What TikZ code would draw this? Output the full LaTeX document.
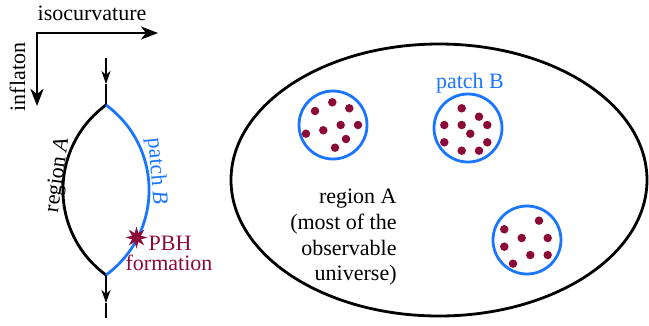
\documentclass[tikz,border=0pt]{standalone}
\usepackage{fontspec}
\setmainfont{Liberation Serif}
\usetikzlibrary{arrows.meta,shapes.geometric}
\definecolor{pbhred}{HTML}{8B0A38}
\definecolor{pblue}{HTML}{1A75FF}
\begin{document}
\begin{tikzpicture}[x=1pt,y=-1pt,line width=2.8pt,
  lbl/.style={font=\fontsize{22}{26}\selectfont, inner sep=0pt},
  bothtip/.style={arrows={Stealth[length=17pt,width=13pt,inset=5pt]-Stealth[length=17pt,width=13pt,inset=5pt]}},
  smalltip/.style={arrows={-Stealth[length=13pt,width=9pt,inset=4pt]}},
  dot/.style={circle, fill=pbhred, inner sep=0pt, minimum size=8.5pt},
  patch/.style={draw=pblue, line width=2.8pt},
  pbhstar/.style={star, star points=8, star point ratio=2.3, fill=pbhred, draw=none, minimum size=22pt, inner sep=0pt}]
\useasboundingbox (0,0) rectangle (649,325);

% axes
\coordinate (ax0) at (37,33);
\coordinate (axh) at (158,33);
\coordinate (axv) at (37,106);
\draw[bothtip, line join=miter] (axv) -- (ax0) -- (axh);
\node[lbl, anchor=base] (iso) at (92,20) {isocurvature};
\node[lbl, anchor=base, rotate=90] (infl) at (25,77) {inflaton};

% lens
\coordinate (top) at (106,58);
\coordinate (ta) at (106,84);
\coordinate (tv) at (106,105);
\coordinate (bv) at (106,275);
\coordinate (ba) at (106,303);
\coordinate (bot) at (106,318);
\draw[smalltip] (top) -- (ta);
\draw (ta) -- (tv);
\draw[smalltip] (bv) -- (ba);
\draw (ba) -- (bot);
\draw (tv) .. controls (48.6,147.2) and (48.6,232.8) .. (bv);
\draw[pblue] (tv) .. controls (163.4,147.2) and (163.4,232.8) .. (bv);
\node[pbhstar] (star) at (136.5,237.5) {};

\node[lbl, rotate=82, anchor=base] (regA) at (63,176) {region \textit{A}};
\node[lbl, text=pblue, rotate=-85, anchor=base] (patB) at (151,172) {patch \textit{B}};
\node[lbl, text=pbhred, anchor=base] (pbh1) at (170,250) {PBH};
\node[lbl, text=pbhred, anchor=base] (pbh2) at (169,270) {formation};

% universe
\node[draw, ellipse, minimum width=416pt, minimum height=272pt, inner sep=0pt] (univ) at (439,180) {};
\node[lbl, anchor=base east] (t1) at (398,203.5) {region A};
\node[lbl, anchor=base east] (t2) at (398,229.3) {(most of the};
\node[lbl, anchor=base east] (t3) at (398,255) {observable};
\node[lbl, anchor=base east] (t4) at (398,280.8) {universe)};

\node[lbl, text=pblue, anchor=base] (pB) at (470,88) {patch B};

\node[patch, circle, minimum size=68pt, inner sep=0pt] (c1) at (333,125) {};
\node[patch, circle, minimum size=68pt, inner sep=0pt] (c2) at (468,128) {};
\node[patch, circle, minimum size=68pt, inner sep=0pt] (c3) at (527,240) {};

\foreach \p in {(332.3,102.3),(315,111),(349.3,108.3),(340.7,125),(358,125),(323.3,130.3),(306,133.7),(346,139),(335,147.7),
  (461.7,108.3),(479,116.7),(444.3,125),(461.7,125),(487.3,125),(470.3,133.7),(444.3,142.3),(487.3,142.3),(461.7,150.7),(479,150.7),
  (539,220.7),(504.3,229.3),(521.7,238),(547.7,238),(504.3,246.7),(530.3,255),(547.7,255),(513,263.7)}
  \node[dot] at \p {};
\end{tikzpicture}
\end{document}
